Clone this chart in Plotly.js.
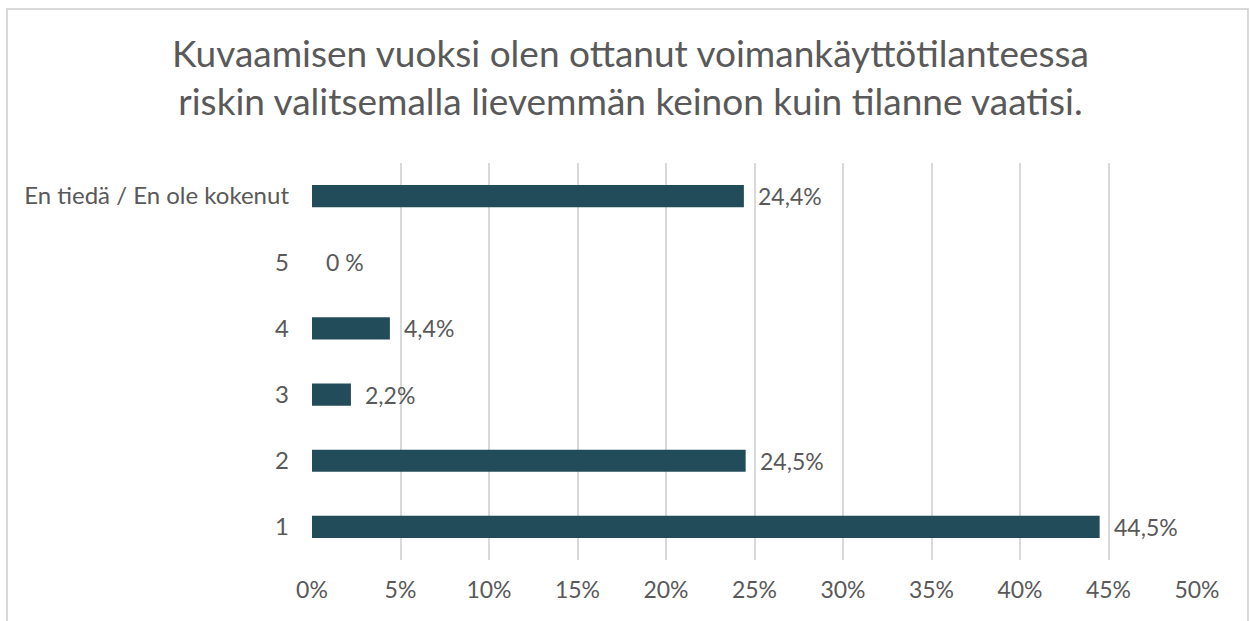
<!DOCTYPE html>
<html>
<head>
<meta charset="utf-8">
<script src="https://cdn.plot.ly/plotly-3.0.1.min.js"></script>
<style>
html,body{margin:0;padding:0;background:#fff;}
#chart{position:absolute;left:0;top:0;width:1251px;height:621px;}
#frame{position:absolute;left:6px;top:8px;width:1243px;height:640px;border:2px solid #d9d9d9;pointer-events:none;box-sizing:border-box;}
</style>
</head>
<body>
<div id="chart"></div>
<div id="frame"></div>
<script>
const categories = ['1', '2', '3', '4', '5', 'En tiedä / En ole kokenut'];
const values = [44.5, 24.5, 2.2, 4.4, 0, 24.4];
const valueLabels = ['44,5%', '24,5%', '2,2%', '4,4%', '0 %', '24,4%'];
const tickVals = [0, 5, 10, 15, 20, 25, 30, 35, 40, 45, 50];
const tickLabels = ['0%', '5%', '10%', '15%', '20%', '25%', '30%', '35%', '40%', '45%', '50%'];
const titleText = 'Kuvaamisen vuoksi olen ottanut voimankäyttötilanteessa<br>riskin valitsemalla lievemmän keinon kuin tilanne vaatisi.';

const FONT = 'Lato, "Open Sans", sans-serif';
const GREY = '#595959';

const trace = {
  type: 'bar',
  orientation: 'h',
  x: values,
  y: categories,
  width: 0.335,
  marker: {color: '#234c5a', line: {width: 0}},
  hoverinfo: 'none'
};

const annotations = values.map((v, i) => ({
  x: v, y: i, xref: 'x', yref: 'y',
  text: valueLabels[i], showarrow: false,
  xanchor: 'left', yanchor: 'middle', xshift: 12,
  font: {family: FONT, size: 23, color: GREY}
}));

const layout = {
  width: 1251, height: 621,
  margin: {l: 312, r: 54, t: 163, b: 61, pad: 0},
  paper_bgcolor: 'rgba(0,0,0,0)',
  plot_bgcolor: '#fff',
  showlegend: false,
  title: {
    text: titleText,
    font: {family: FONT, size: 37, color: GREY},
    x: 0.504, xanchor: 'center', xref: 'container',
    y: 1 - 67/621, yanchor: 'middle', yref: 'container'
  },
  xaxis: {
    range: [0, 50],
    tickvals: tickVals,
    ticktext: tickLabels,
    showgrid: true, gridcolor: '#d9d9d9', gridwidth: 2,
    zeroline: false, showline: false, ticks: '',
    ticklabelstandoff: 14,
    tickfont: {family: FONT, size: 23, color: GREY},
    fixedrange: true
  },
  yaxis: {
    type: 'category',
    categoryorder: 'array', categoryarray: categories,
    showgrid: false, zeroline: false, showline: false, ticks: '',
    ticklabelstandoff: 22,
    tickfont: {family: FONT, size: 24, color: GREY},
    fixedrange: true
  },
  annotations: annotations
};

Plotly.newPlot('chart', [trace], layout, {displayModeBar: false, staticPlot: true});
</script>
</body>
</html>
